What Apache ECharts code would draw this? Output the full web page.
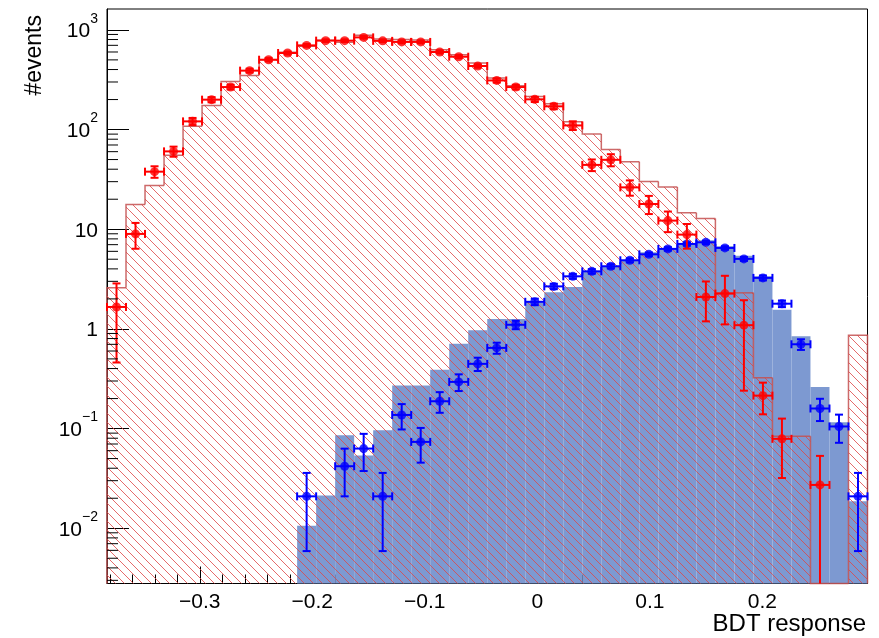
<!DOCTYPE html>
<html><head><meta charset="utf-8">
<script src="https://cdn.jsdelivr.net/npm/echarts@6/dist/echarts.min.js"></script>
<style>html,body{margin:0;padding:0;background:#fff}#c{width:879px;height:638px}</style>
</head><body><div id="c"></div>
<script>
// ---- axis ranges / binning ----
const X_MIN = -0.3825, X_MAX = 0.2935, N_BINS = 40;
const Y_MIN = 0.00279, Y_MAX = 1620;

// ---- training histograms (per bin) ----
const sigTrain = [0,0,0,0,0,0,0,0,0,0,
  0.0106,0.0213,0.0857,0.0536,0.0962,0.27,0.27,0.39,0.71,0.97,
  1.26,1.26,1.87,2.33,2.64,3.78,4.25,4.88,5.87,6.49,
  7.29,7.74,6.74,5.43,3.37,1.56,0.843,0.262,0.116,0.0187];
const bkgTrain = [2.58,17.7,27.4,55.1,108,174,304,348,502,595,
  684,785,750,881,811,800,790,633,564,466,
  329,275,215,181,120,90,63,47.5,30.2,26.5,
  14.6,12.8,2.3,2.3,0.323,0.0837,0.0837,0,0,0.863];

// ---- test samples (points with errors) ----
const sigTest = [null,null,null,null,null,null,null,null,null,null,
  0.0209,null,0.0419,0.063,0.0209,0.137,0.0735,0.188,0.294,0.446,
  0.645,1.10,1.87,2.67,3.37,3.78,4.25,4.88,5.6,6.35,
  7.12,7.39,6.49,5.04,3.25,1.79,0.701,0.159,0.105,0.0209];
const sigTestErr = [0,0,0,0,0,0,0,0,0,0,
  0.015,0,0.021,0.0255,0.015,0.039,0.028,0.044,0.056,0.068,
  0.082,0.107,0.14,0.167,0.188,0.2,0.21,0.226,0.24,0.26,
  0.27,0.28,0.26,0.23,0.185,0.137,0.086,0.04,0.033,0.015];
const bkgTest = [1.66,8.97,37.8,60.4,120.8,199.5,267,390,502,586,
  699,780,780,841,776,757,757,600,538,434,
  311,267,201,171,110,44.2,49.7,26.3,17.9,12.2,
  8.83,2.09,2.26,1.09,0.214,0.0789,null,0.0272,null,null];
const bkgTestErr = [1.2,2.6,5,7,10,12,14,17,19,20,
  22,23,23,24,23,23,23,20,19,17,
  15,14,12,11,11,5.9,6.9,4.6,3.7,2.85,
  2.45,0.9,1.15,0.85,0.075,0.047,0,0.026,0,0];

// ---- axis decoration values ----
const yMinorTicks = [0.003,0.004,0.005,0.006,0.007,0.008,0.009,
  0.02,0.03,0.04,0.05,0.06,0.07,0.08,0.09,
  0.2,0.3,0.4,0.5,0.6,0.7,0.8,0.9,
  2,3,4,5,6,7,8,9,
  20,30,40,50,60,70,80,90,
  200,300,400,500,600,700,800,900];

const xTitle = 'BDT response';
const yTitle = '#events';

const FONT = '"Liberation Sans", Arial, Helvetica, sans-serif';
const binW = (X_MAX - X_MIN) / N_BINS;

function histData(vals) {
  return vals.map((v, i) => [X_MIN + i * binW, X_MIN + (i + 1) * binW, v,
    i > 0 ? vals[i - 1] : 0, i === vals.length - 1 ? 1 : 0]);
}
function pointData(vals, errs) {
  const out = [];
  vals.forEach((v, i) => {
    if (v == null) return;
    out.push([X_MIN + (i + 0.5) * binW, v, v - errs[i], v + errs[i],
      X_MIN + i * binW, X_MIN + (i + 1) * binW]);
  });
  return out;
}

function hatchPattern() {
  const s = 9;
  const c = document.createElement('canvas');
  c.width = s; c.height = s;
  const g = c.getContext('2d');
  g.strokeStyle = 'rgba(222,70,70,0.8)';
  g.lineWidth = 1;
  g.beginPath();
  g.moveTo(-1, -1); g.lineTo(s + 1, s + 1);
  g.moveTo(-1, s - 1); g.lineTo(1, s + 1);
  g.moveTo(s - 1, -1); g.lineTo(s + 1, 1);
  g.stroke();
  return c;
}

function histRender(fill, stroke, lw) {
  return function (params, api) {
    const cs = params.coordSys;
    const bottom = cs.y + cs.height;
    const yOf = v => {
      if (!(v > 0)) return bottom;
      const y = api.coord([X_MIN, v])[1];
      return Math.max(cs.y, Math.min(bottom, y));
    };
    const x0 = api.coord([api.value(0), 1])[0];
    const x1 = api.coord([api.value(1), 1])[0];
    const y = yOf(api.value(2));
    const yp = yOf(api.value(3));
    const children = [];
    if (y < bottom) {
      children.push({type: 'rect', shape: {x: x0, y: y, width: x1 - x0, height: bottom - y},
        style: {fill: fill}});
    }
    if (stroke) {
      const pts = [[x0, yp], [x0, y], [x1, y]];
      if (api.value(4) === 1) pts.push([x1, bottom]);
      children.push({type: 'polyline', shape: {points: pts},
        style: {stroke: stroke, lineWidth: lw, fill: null}});
    }
    return {type: 'group', children: children};
  };
}

function errRender(color) {
  return function (params, api) {
    const cs = params.coordSys;
    const bottom = cs.y + cs.height, top = cs.y;
    const xc = api.value(0), v = api.value(1), lo = api.value(2), hi = api.value(3);
    const p = api.coord([xc, v]);
    const yHi = Math.max(top, api.coord([xc, hi])[1]);
    const yLo = lo > 0 ? Math.min(bottom, api.coord([xc, lo])[1]) : bottom;
    const xl = api.coord([api.value(4), v])[0];
    const xr = api.coord([api.value(5), v])[0];
    const cap = 4;
    const st = {stroke: color, lineWidth: 2};
    const ch = [
      {type: 'line', shape: {x1: p[0], y1: yHi, x2: p[0], y2: yLo}, style: st},
      {type: 'line', shape: {x1: xl, y1: p[1], x2: xr, y2: p[1]}, style: st},
      {type: 'line', shape: {x1: xl, y1: p[1] - cap, x2: xl, y2: p[1] + cap}, style: st},
      {type: 'line', shape: {x1: xr, y1: p[1] - cap, x2: xr, y2: p[1] + cap}, style: st},
      {type: 'line', shape: {x1: p[0] - cap, y1: yHi, x2: p[0] + cap, y2: yHi}, style: st}
    ];
    if (yLo < bottom - 0.5) {
      ch.push({type: 'line', shape: {x1: p[0] - cap, y1: yLo, x2: p[0] + cap, y2: yLo}, style: st});
    }
    return {type: 'group', children: ch};
  };
}

function minorTickRender(params, api) {
  const cs = params.coordSys;
  const y = api.coord([X_MIN, api.value(1)])[1];
  return {type: 'line', shape: {x1: cs.x, y1: y, x2: cs.x + 11, y2: y},
    style: {stroke: '#000', lineWidth: 1}};
}

function yLabel(v) {
  const e = Math.round(Math.log10(v));
  if (e === 0) return '{b|1}';
  if (e === 1) return '{b|10}';
  return '{b|10}{s|' + (e < 0 ? '\u2212' + (-e) : e) + '}';
}
function xLabel(v) {
  if (Math.abs(v) < 1e-9) return '0';
  const s = Math.abs(v).toFixed(1);
  return v < 0 ? '\u2212' + s : s;
}

const chart = echarts.init(document.getElementById('c'), null, {renderer: 'canvas'});
const hatch = hatchPattern();

chart.setOption({
  animation: false,
  backgroundColor: '#fff',
  textStyle: {fontFamily: FONT},
  grid: {left: 107, top: 9, right: 11.5, bottom: 54.5, show: true,
    borderColor: '#000', borderWidth: 1, backgroundColor: 'transparent', outerBoundsMode: 'none'},
  xAxis: {
    type: 'value', min: X_MIN, max: X_MAX, splitNumber: 5,
    axisLine: {show: true, onZero: false, lineStyle: {color: '#000', width: 1}},
    axisTick: {show: true, inside: true, length: 17, lineStyle: {color: '#000', width: 1}},
    minorTick: {show: true, splitNumber: 5, length: 9, lineStyle: {color: '#000', width: 1}},
    splitLine: {show: false},
    axisLabel: {show: true, showMinLabel: false, showMaxLabel: false, margin: 8,
      color: '#000', fontSize: 21, fontFamily: FONT, formatter: xLabel}
  },
  yAxis: {
    type: 'log', logBase: 10, min: Y_MIN, max: Y_MAX,
    axisLine: {show: true, onZero: false, lineStyle: {color: '#000', width: 1}},
    axisTick: {show: true, inside: true, length: 22, lineStyle: {color: '#000', width: 1}},
    minorTick: {show: false},
    splitLine: {show: false},
    axisLabel: {show: true, showMinLabel: false, showMaxLabel: false, margin: 9,
      color: '#000', fontFamily: FONT, formatter: yLabel, padding: [0, 0, 6, 0],
      rich: {
        b: {fontSize: 21, fontFamily: FONT, color: '#000', lineHeight: 30, verticalAlign: 'bottom'},
        s: {fontSize: 14, fontFamily: FONT, color: '#000', lineHeight: 14, verticalAlign: 'top'}
      }}
  },
  graphic: [
    {type: 'text', right: 13, top: 612, style: {text: xTitle, font: '24px ' + FONT, fill: '#000'}},
    {type: 'text', x: 35, y: 15, rotation: Math.PI / 2,
      style: {text: yTitle, font: '23px ' + FONT, fill: '#000', align: 'right', verticalAlign: 'middle'}}
  ],
  series: [
    {name: 'Signal (training)', type: 'custom', renderItem: histRender('#7d99d1', null, 0),
      data: histData(sigTrain), encode: {x: [0, 1], y: 2}, silent: true, z: 1},
    {name: 'Background (training)', type: 'custom',
      renderItem: histRender({image: hatch, repeat: 'repeat'}, 'rgba(196,80,80,0.85)', 1.5),
      data: histData(bkgTrain), encode: {x: [0, 1], y: 2}, silent: true, z: 2},
    {name: 'yMinorTicks', type: 'custom', renderItem: minorTickRender,
      data: yMinorTicks.map(v => [X_MIN, v]), encode: {x: 0, y: 1}, silent: true, z: 10},
    {name: 'Signal (test) errors', type: 'custom', renderItem: errRender('#0000ff'),
      data: pointData(sigTest, sigTestErr), encode: {x: 0, y: 1}, silent: true, z: 3},
    {name: 'Signal (test)', type: 'scatter', symbol: 'circle', symbolSize: 9,
      itemStyle: {color: '#0000ff'}, data: pointData(sigTest, sigTestErr).map(d => [d[0], d[1]]), z: 4},
    {name: 'Background (test) errors', type: 'custom', renderItem: errRender('#ff0000'),
      data: pointData(bkgTest, bkgTestErr), encode: {x: 0, y: 1}, silent: true, z: 5},
    {name: 'Background (test)', type: 'scatter', symbol: 'circle', symbolSize: 9,
      itemStyle: {color: '#ff0000'}, data: pointData(bkgTest, bkgTestErr).map(d => [d[0], d[1]]), z: 6}
  ]
});
</script></body></html>
